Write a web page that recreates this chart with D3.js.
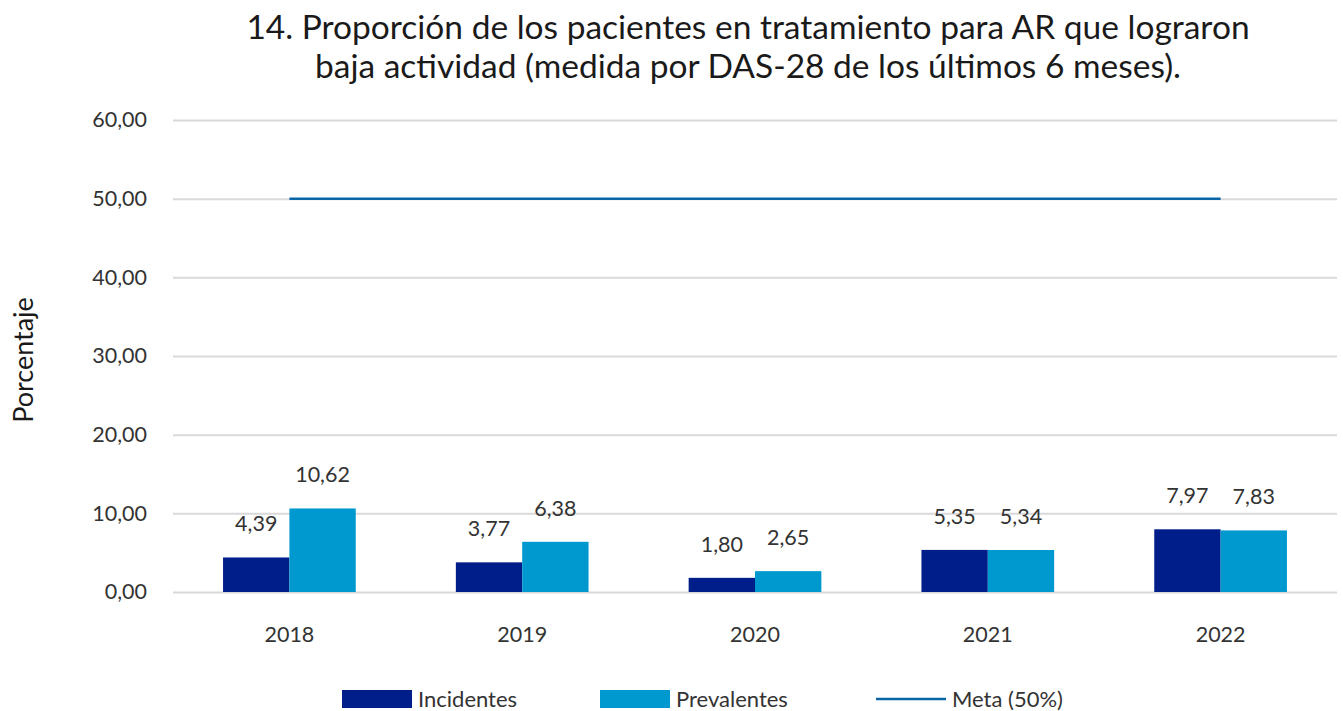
<!DOCTYPE html>
<html>
<head>
<meta charset="utf-8">
<script src="https://cdn.jsdelivr.net/npm/d3@7"></script>
<style>
  html, body { margin: 0; padding: 0; background: #fff; }
  svg { display: block; }
  text { font-family: "Lato", "Open Sans", sans-serif; }
</style>
</head>
<body>
<svg id="chart" width="1343" height="711"></svg>
<script>
const years = ["2018", "2019", "2020", "2021", "2022"];
const incidentes = [4.39, 3.77, 1.80, 5.35, 7.97];
const prevalentes = [10.62, 6.38, 2.65, 5.34, 7.83];
const meta = [50, 50, 50, 50, 50];
const yTicks = [0, 10, 20, 30, 40, 50, 60];
const seriesNames = ["Incidentes", "Prevalentes"];
const titleLines = [
  "14. Proporción de los pacientes en tratamiento para AR que lograron",
  "baja actividad (medida por DAS-28 de los últimos 6 meses)."
];

const colors = { Incidentes: "#001E8A", Prevalentes: "#0099CF", meta: "#0A64A8" };
const fmt = v => v.toFixed(2).replace(".", ",");

const svg = d3.select("#chart");
const plotLeft = 173, plotRight = 1337, plotTop = 120, plotBottom = 592;

const x = d3.scaleBand().domain(years).range([plotLeft, plotRight]).paddingInner(0.43).paddingOuter(0.215);
const xs = d3.scaleBand().domain(seriesNames).range([0, x.bandwidth()]);
const y = d3.scaleLinear().domain([0, 60]).range([plotBottom, plotTop]);

// title
svg.append("g").selectAll("text").data(titleLines).join("text")
  .attr("x", 748).attr("y", (d, i) => 39 + i * 39)
  .attr("text-anchor", "middle")
  .attr("font-size", 33.5).attr("fill", "#1a1a1a")
  .text(d => d);

// grid + y axis
const yAxis = d3.axisLeft(y).tickValues(yTicks).tickFormat(fmt).tickSize(-(plotRight - plotLeft)).tickPadding(26);
const gy = svg.append("g").attr("transform", `translate(${plotLeft},0)`).call(yAxis);
gy.select(".domain").remove();
gy.selectAll(".tick line").attr("stroke", "#d9d9d9").attr("stroke-width", 2);
gy.selectAll(".tick text").attr("font-size", 21.5).attr("fill", "#333").attr("font-family", "Lato, sans-serif");

// x axis labels
const xAxis = d3.axisBottom(x).tickSize(0).tickPadding(35);
const gx = svg.append("g").attr("transform", `translate(0,${plotBottom})`).call(xAxis);
gx.select(".domain").remove();
gx.selectAll(".tick text").attr("font-size", 21.5).attr("fill", "#333").attr("font-family", "Lato, sans-serif");

// y axis title
svg.append("text")
  .attr("transform", "translate(33,360) rotate(-90)")
  .attr("text-anchor", "middle").attr("font-size", 27).attr("fill", "#1a1a1a")
  .text("Porcentaje");

// bars
const rows = years.map((yr, i) => ({ year: yr, values: [
  { key: "Incidentes", v: incidentes[i] },
  { key: "Prevalentes", v: prevalentes[i] }
]}));

const groups = svg.append("g").selectAll("g").data(rows).join("g")
  .attr("transform", d => `translate(${x(d.year)},0)`);

groups.selectAll("rect").data(d => d.values).join("rect")
  .attr("x", d => xs(d.key)).attr("width", xs.bandwidth())
  .attr("y", d => y(d.v)).attr("height", d => y(0) - y(d.v))
  .attr("fill", d => colors[d.key]);

groups.selectAll("text").data(d => d.values).join("text")
  .attr("x", d => xs(d.key) + xs.bandwidth() / 2)
  .attr("y", d => y(d.v) - 26)
  .attr("text-anchor", "middle").attr("font-size", 21.5).attr("fill", "#333")
  .text(d => fmt(d.v));

// target line across category centres
const line = d3.line().x((d, i) => x(years[i]) + x.bandwidth() / 2).y(d => y(d));
svg.append("path").datum(meta).attr("d", line)
  .attr("fill", "none").attr("stroke", colors.meta).attr("stroke-width", 2.5);

// legend
const lg = svg.append("g");
const legendItems = [
  { label: "Incidentes", type: "rect", color: colors.Incidentes, x: 342 },
  { label: "Prevalentes", type: "rect", color: colors.Prevalentes, x: 600 },
  { label: "Meta (50%)", type: "line", color: colors.meta, x: 876 }
];
legendItems.forEach(it => {
  if (it.type === "rect") {
    lg.append("rect").attr("x", it.x).attr("y", 690).attr("width", 70).attr("height", 18).attr("fill", it.color);
  } else {
    lg.append("line").attr("x1", it.x).attr("x2", it.x + 70).attr("y1", 699).attr("y2", 699)
      .attr("stroke", it.color).attr("stroke-width", 2.5);
  }
  lg.append("text").attr("x", it.x + 76).attr("y", 707).attr("font-size", 22).attr("fill", "#333").text(it.label);
});
</script>
</body>
</html>
